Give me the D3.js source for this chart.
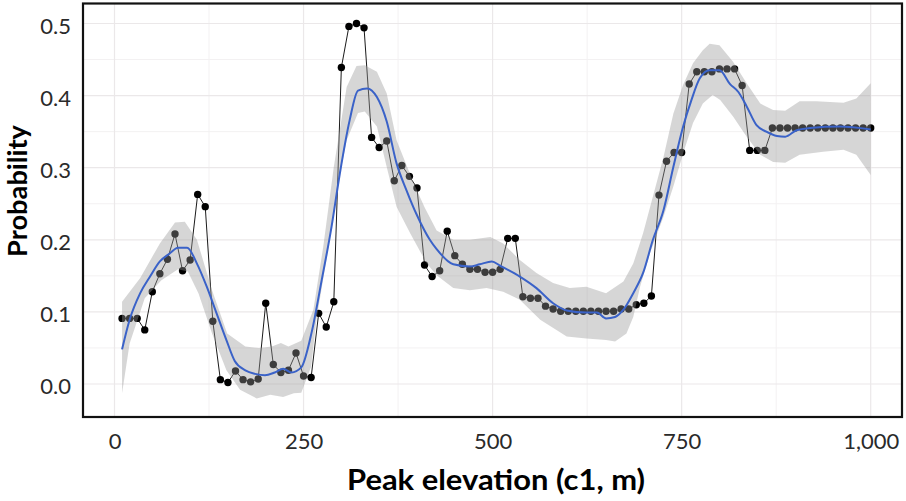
<!DOCTYPE html>
<html>
<head>
<meta charset="utf-8">
<script src="https://cdn.jsdelivr.net/npm/d3@7"></script>
<style>
  html, body { margin: 0; padding: 0; background: #fff; }
  svg { display: block; }
</style>
</head>
<body>
<svg id="chart" width="906" height="501"></svg>
<script>
// ---------- data ----------
const elevation = [10,20,30,40,50,60,70,80,90,100,110,120,130,140,150,160,170,180,190,200,
  210,220,230,240,250,260,270,280,290,300,310,320,330,340,350,360,370,380,390,400,
  410,420,430,440,450,460,470,480,490,500,510,520,530,540,550,560,570,580,590,600,
  610,620,630,640,650,660,670,680,690,700,710,720,730,740,750,760,770,780,790,800,
  810,820,830,840,850,860,870,880,890,900,910,920,930,940,950,960,970,980,990,1000];
const probability = [0.091,0.091,0.091,0.075,0.128,0.153,0.173,0.208,0.157,0.172,
  0.263,0.246,0.087,0.006,0.002,0.018,0.006,0.003,0.007,0.112,
  0.027,0.016,0.019,0.043,0.011,0.009,0.098,0.079,0.114,0.439,
  0.496,0.500,0.494,0.342,0.328,0.337,0.282,0.303,0.288,0.272,
  0.165,0.149,0.157,0.212,0.178,0.166,0.159,0.159,0.155,0.155,
  0.159,0.202,0.202,0.121,0.119,0.119,0.108,0.104,0.101,0.101,
  0.101,0.101,0.101,0.101,0.101,0.101,0.104,0.104,0.110,0.112,
  0.122,0.262,0.309,0.321,0.321,0.416,0.433,0.433,0.433,0.437,
  0.437,0.437,0.414,0.324,0.324,0.324,0.355,0.355,0.355,0.355,
  0.355,0.355,0.355,0.355,0.355,0.355,0.355,0.355,0.355,0.355];

// smoothed fit
const fitX = [10,20,34,47,60,73,84,96,109,122,135,148,159,173,186,199,212,223,234,247,
  261,274,287,298,311,322,334,347,360,373,386,400,417,426,448,470,483,499,510,536,
  558,580,598,624,638,650,662,673,686,699,712,726,739,752,763,774,787,800,814,825,
  836,849,862,876,887,902,920,959,1000];
const fitY = [0.048,0.089,0.126,0.149,0.170,0.181,0.189,0.189,0.167,0.135,0.098,0.061,0.032,0.019,0.014,0.012,0.016,0.021,0.016,0.023,
  0.073,0.144,0.218,0.292,0.366,0.407,0.410,0.398,0.364,0.306,0.269,0.234,0.200,0.187,0.166,0.163,0.166,0.170,0.164,0.149,
  0.133,0.112,0.102,0.099,0.099,0.091,0.093,0.103,0.126,0.154,0.200,0.241,0.301,0.357,0.394,0.424,0.435,0.435,0.416,0.405,
  0.385,0.359,0.350,0.344,0.343,0.352,0.355,0.357,0.353];

// confidence band
const upperX = [10,34,60,80,93,109,129,149,173,191,208,220,230,247,263,276,290,307,320,331,
  347,360,373,395,410,426,448,470,497,514,536,558,580,602,624,650,673,686,699,712,
  726,739,752,765,778,787,800,818,836,854,871,887,906,928,964,981,1000];
const upperY = [0.114,0.147,0.195,0.224,0.225,0.200,0.130,0.070,0.052,0.050,0.052,0.057,0.052,0.060,0.103,0.190,0.301,0.412,0.441,0.442,
  0.433,0.403,0.338,0.280,0.245,0.213,0.200,0.200,0.204,0.195,0.172,0.154,0.140,0.133,0.135,0.126,0.142,0.167,0.209,0.260,
  0.315,0.375,0.415,0.445,0.463,0.472,0.470,0.447,0.417,0.389,0.380,0.379,0.392,0.392,0.390,0.396,0.417];
const lowerX = [10,20,40,62,84,97,111,129,148,166,188,206,223,237,247,260,267,281,295,307,
  322,331,347,360,373,391,413,426,448,470,492,514,536,563,598,624,650,662,677,686,
  695,708,726,739,752,765,778,791,801,818,836,854,871,887,906,937,964,981,1000];
const lowerY = [-0.013,0.056,0.119,0.144,0.159,0.156,0.126,0.070,0.019,-0.008,-0.020,-0.015,-0.018,-0.013,-0.012,0.024,0.089,0.177,0.274,0.338,
  0.376,0.378,0.357,0.301,0.246,0.209,0.167,0.151,0.133,0.130,0.133,0.128,0.117,0.089,0.066,0.063,0.061,0.059,0.070,0.093,
  0.135,0.181,0.232,0.274,0.320,0.362,0.389,0.401,0.394,0.371,0.343,0.318,0.308,0.307,0.318,0.322,0.325,0.318,0.290];

const xTicks = [0, 250, 500, 750, 1000];
const xMinor = [125, 375, 625, 875];
const yTicks = [0, 0.1, 0.2, 0.3, 0.4, 0.5];
const yMinor = [0.05, 0.15, 0.25, 0.35, 0.45];

// ---------- layout ----------
const panel = { left: 83, top: 3.5, right: 902, bottom: 417 };
const svg = d3.select("#chart");
const x = d3.scaleLinear().domain([0, 1000]).range([114.5, 870.7]);
const y = d3.scaleLinear().domain([0, 0.5]).range([384, 23.5]);
const FONT = "Lato, 'Open Sans', 'DejaVu Sans', sans-serif";

// background
svg.append("rect").attr("x", 0).attr("y", 0).attr("width", 906).attr("height", 501).attr("fill", "#fff");

// grid
const grid = svg.append("g");
grid.selectAll(".vmin").data(xMinor).join("line")
  .attr("x1", d => x(d)).attr("x2", d => x(d)).attr("y1", panel.top).attr("y2", panel.bottom)
  .attr("stroke", "#f3f1f2").attr("stroke-width", 1);
grid.selectAll(".hmin").data(yMinor).join("line")
  .attr("y1", d => y(d)).attr("y2", d => y(d)).attr("x1", panel.left).attr("x2", panel.right)
  .attr("stroke", "#f3f1f2").attr("stroke-width", 1);
grid.selectAll(".vmaj").data(xTicks).join("line")
  .attr("x1", d => x(d)).attr("x2", d => x(d)).attr("y1", panel.top).attr("y2", panel.bottom)
  .attr("stroke", "#ebe8e9").attr("stroke-width", 1.2);
grid.selectAll(".hmaj").data(yTicks).join("line")
  .attr("y1", d => y(d)).attr("y2", d => y(d)).attr("x1", panel.left).attr("x2", panel.right)
  .attr("stroke", "#ebe8e9").attr("stroke-width", 1.2);

// observed series
const obs = elevation.map((e, i) => [e, probability[i]]);
svg.append("path").datum(obs)
  .attr("d", d3.line().x(d => x(d[0])).y(d => y(d[1])))
  .attr("fill", "none").attr("stroke", "#1a1a1a").attr("stroke-width", 1);
svg.append("g").selectAll("circle").data(obs).join("circle")
  .attr("cx", d => x(d[0])).attr("cy", d => y(d[1])).attr("r", 3.7)
  .attr("fill", "#000");

// confidence band (semi-transparent, drawn over the points)
const band = upperX.map((e, i) => [e, upperY[i]])
  .concat(lowerX.map((e, i) => [e, lowerY[i]]).reverse());
svg.append("path").datum(band)
  .attr("d", d3.line().x(d => x(d[0])).y(d => y(d[1])).curve(d3.curveLinearClosed))
  .attr("fill", "#999999").attr("fill-opacity", 0.4).attr("stroke", "none");

// fitted line
svg.append("path").datum(fitX.map((e, i) => [e, fitY[i]]))
  .attr("d", d3.line().x(d => x(d[0])).y(d => y(d[1])).curve(d3.curveMonotoneX))
  .attr("fill", "none").attr("stroke", "#3a62c8").attr("stroke-width", 2);

// panel border
svg.append("rect")
  .attr("x", panel.left).attr("y", panel.top)
  .attr("width", panel.right - panel.left).attr("height", panel.bottom - panel.top)
  .attr("fill", "none").attr("stroke", "#111").attr("stroke-width", 2.2);

// axes
const yAxis = svg.append("g").attr("transform", `translate(${71},0)`)
  .call(d3.axisLeft(y).tickValues(yTicks).tickFormat(d3.format(".1f")).tickSize(0).tickPadding(0));
yAxis.select(".domain").remove();
yAxis.selectAll("text").attr("font-family", FONT).attr("font-size", 22).attr("fill", "#2a2a2a")
  .attr("dy", "0.45em");

const xAxis = svg.append("g").attr("transform", `translate(0,${431})`)
  .call(d3.axisBottom(x).tickValues(xTicks).tickFormat(d3.format(",")).tickSize(0).tickPadding(0));
xAxis.select(".domain").remove();
xAxis.selectAll("text").attr("font-family", FONT).attr("font-size", 22).attr("fill", "#2a2a2a")
  .attr("dy", "0.82em");

// titles
svg.append("text").text("Peak elevation (c1, m)")
  .attr("x", 496).attr("y", 490).attr("text-anchor", "middle")
  .attr("font-family", FONT).attr("font-weight", "bold").attr("font-size", 28)
  .attr("textLength", 298).attr("lengthAdjust", "spacingAndGlyphs").attr("fill", "#000");
svg.append("text").text("Probability")
  .attr("transform", "translate(27,191) rotate(-90)").attr("text-anchor", "middle")
  .attr("font-family", FONT).attr("font-weight", "bold").attr("font-size", 27)
  .attr("textLength", 132).attr("lengthAdjust", "spacingAndGlyphs").attr("fill", "#000");
</script>
</body>
</html>
